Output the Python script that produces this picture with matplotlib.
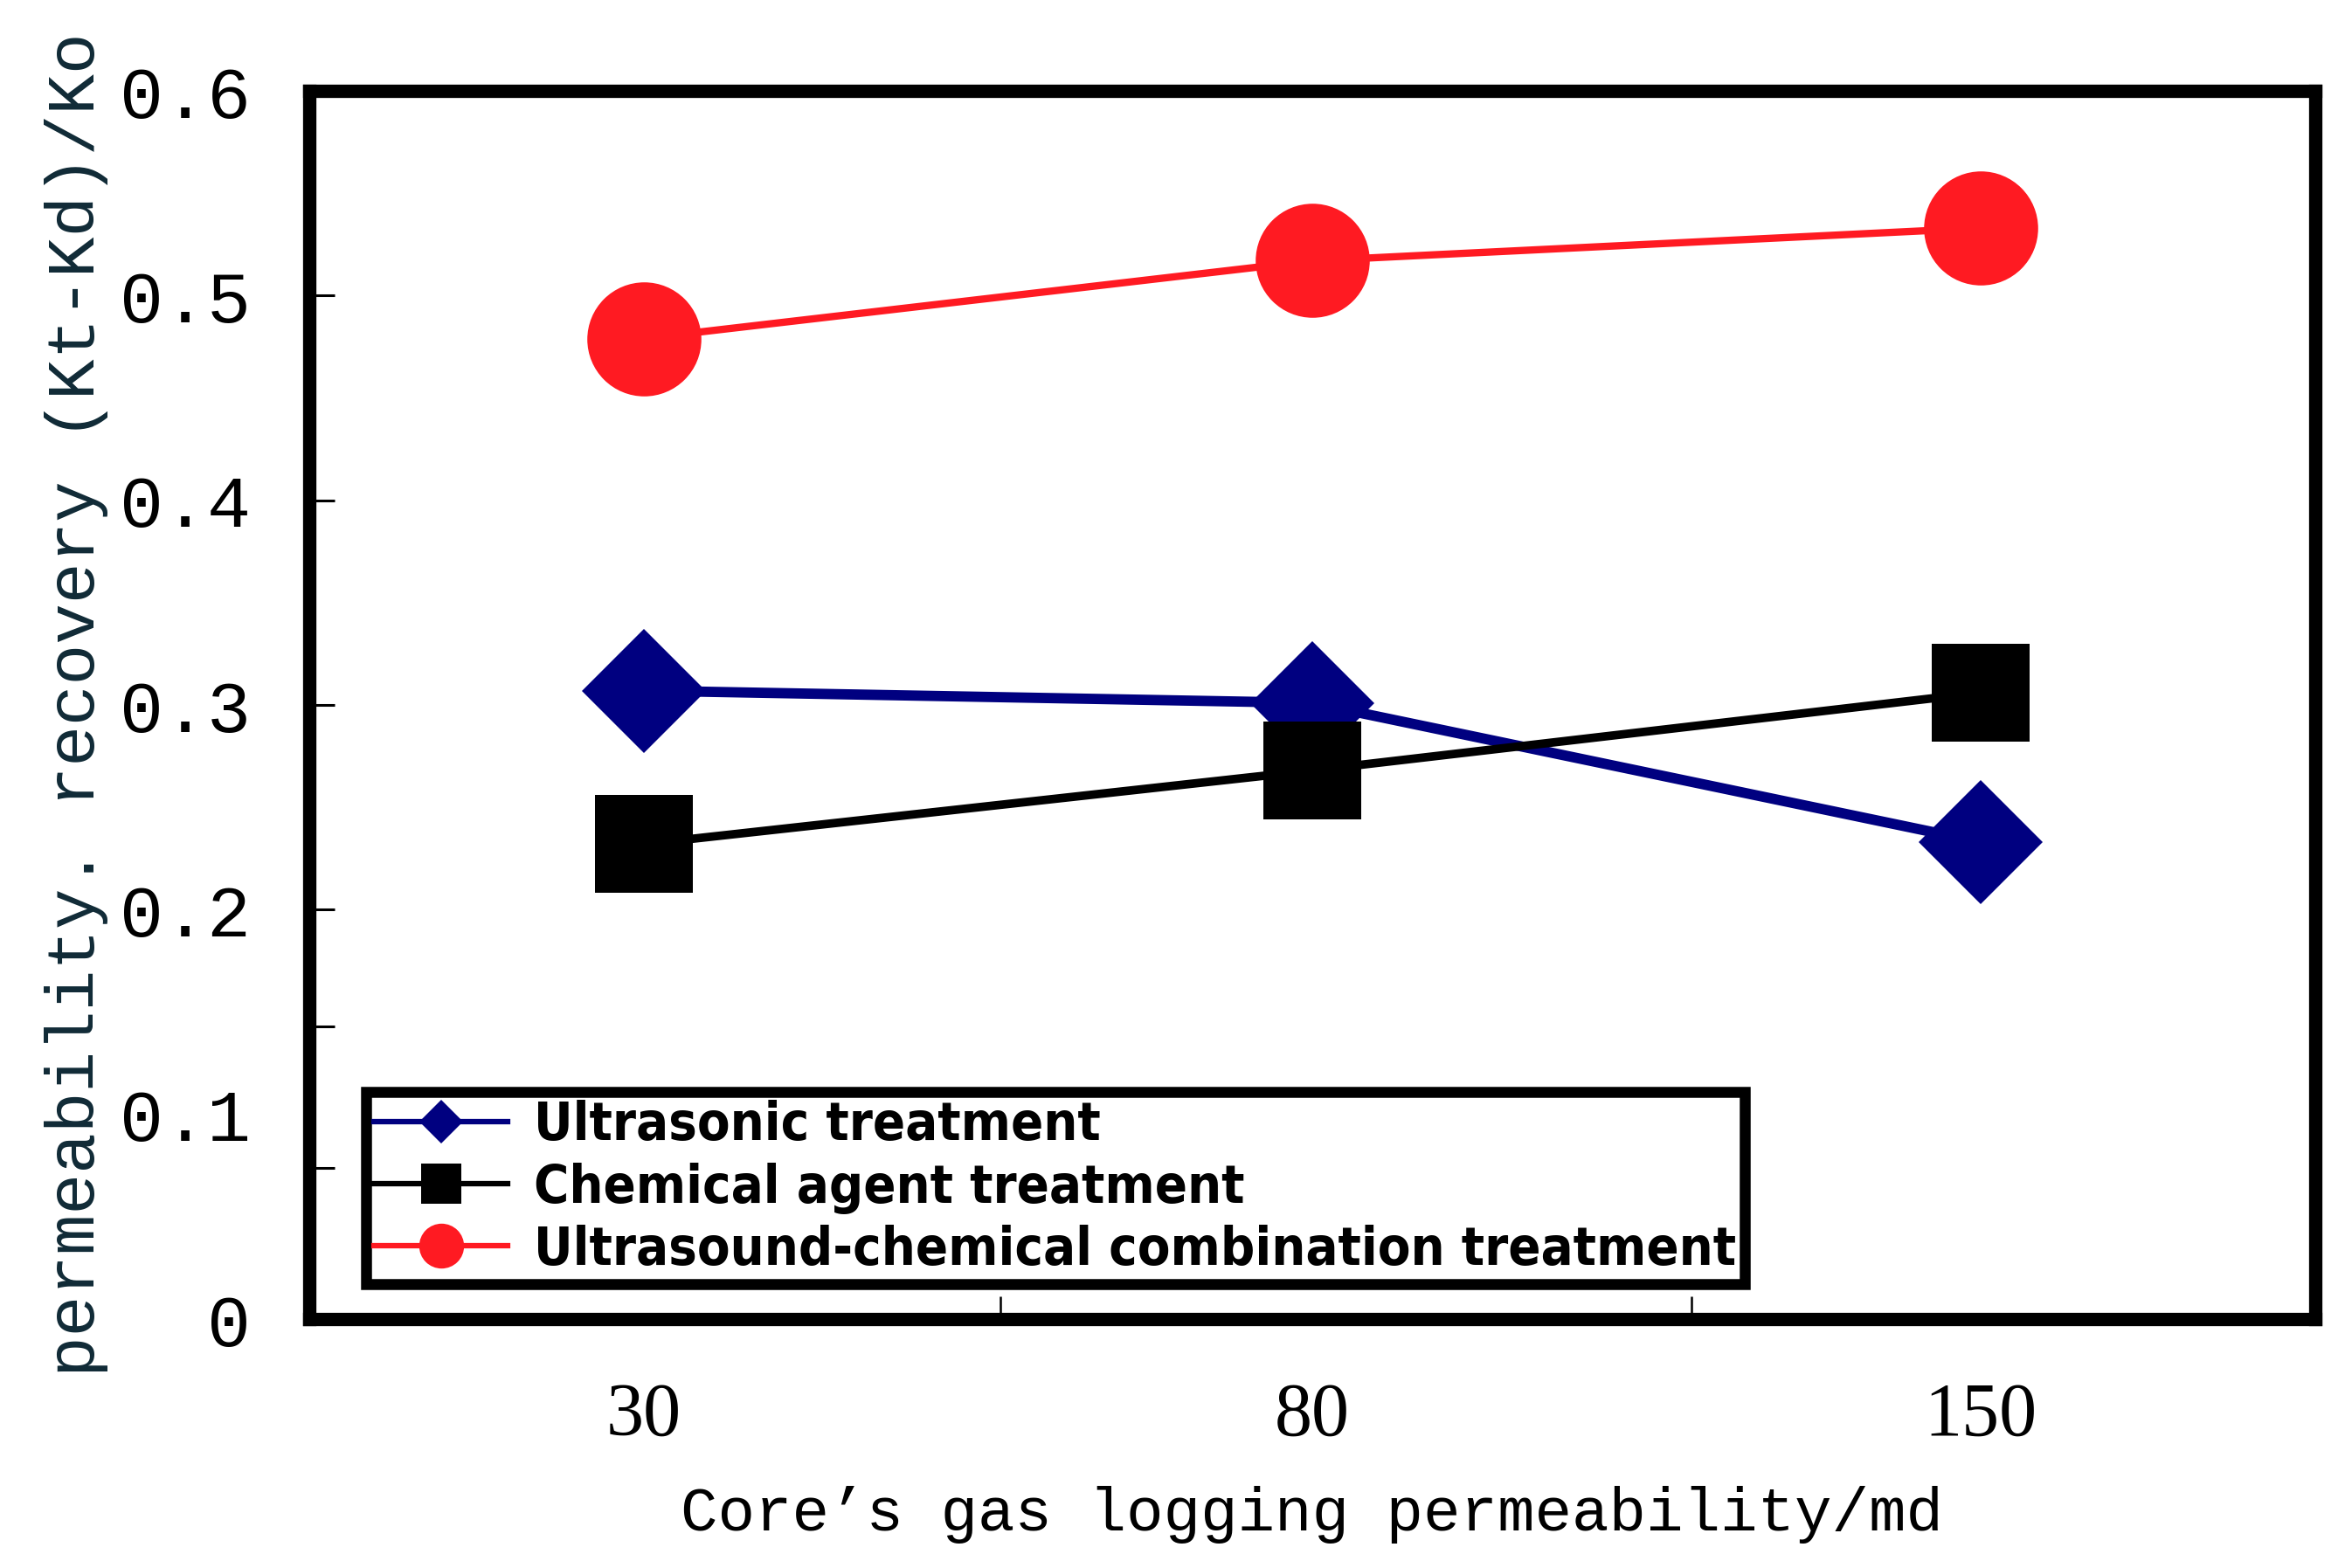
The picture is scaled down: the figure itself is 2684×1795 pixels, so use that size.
import matplotlib
matplotlib.use('Agg')
import matplotlib.pyplot as plt
from matplotlib import font_manager as fm
from matplotlib.ticker import FixedLocator, NullFormatter

# ---- data ----
categories = ['30', '80', '150']
ultrasonic = [0.307, 0.301, 0.233]
chemical = [0.232, 0.268, 0.306]
combined = [0.479, 0.517, 0.533]
series_names = ['Ultrasonic treatment',
                'Chemical agent treatment',
                'Ultrasound-chemical combination treatment']
y_tick_values = [0, 0.1, 0.2, 0.3, 0.4, 0.5, 0.6]
y_tick_labels = ['0', '0.1', '0.2', '0.3', '0.4', '0.5', '0.6']
x_label = "Core\u2019s gas logging permeability/md"
y_label = "permeability. recovery (Kt-Kd)/Ko"

# ---- pick a narrow bold font for the legend if available ----
def _is_bold(w):
    try:
        return int(w) >= 600
    except (TypeError, ValueError):
        return str(w).lower() in ('bold', 'demibold', 'semibold', 'heavy', 'black')

narrow = None
for f in fm.fontManager.ttflist:
    nm = f.name.lower()
    if (('narrow' in nm or 'condensed' in nm or
         str(f.stretch).lower() in ('condensed', 'semi-condensed'))
            and _is_bold(f.weight) and f.style == 'normal'):
        narrow = f
        if 'sans' in nm:
            break
if narrow is not None:
    legend_prop = fm.FontProperties(fname=narrow.fname, size=44)
else:
    legend_prop = fm.FontProperties(family='DejaVu Sans', weight='bold', size=39)

# ---- figure ----
fig = plt.figure(figsize=(26.84, 17.95), dpi=100)
ax = fig.add_axes([0.13189, 0.15877, 0.85544, 0.78329])

x = list(range(len(categories)))
navy = '#000080'
red = '#ff1a22'

ax.plot(x, ultrasonic, color=navy, lw=8.5, marker='D', ms=72,
        mec=navy, mew=0, label=series_names[0], zorder=3)
ax.plot(x, chemical, color='black', lw=7.0, marker='s', ms=80,
        mec='black', mew=0, label=series_names[1], zorder=4)
ax.plot(x, combined, color=red, lw=6.0, marker='o', ms=94,
        mec=red, mew=0, label=series_names[2], zorder=5)

ax.set_xlim(-0.5, 2.5)
ax.set_ylim(0, 0.6)

for sp in ax.spines.values():
    sp.set_linewidth(11)
    sp.set_color('black')

ax.yaxis.remove_overlapping_locs = False
ax.xaxis.remove_overlapping_locs = False

# y ticks
ax.yaxis.set_major_locator(FixedLocator(y_tick_values))
ax.set_yticklabels(y_tick_labels, family=['Liberation Mono', 'DejaVu Sans Mono'],
                   fontsize=60)
ax.tick_params(axis='y', which='major', length=0, pad=48)
ax.yaxis.set_minor_locator(FixedLocator([0.5, 0.4, 0.3, 0.2, 0.143, 0.074]))
ax.yaxis.set_minor_formatter(NullFormatter())
ax.tick_params(axis='y', which='minor', direction='in', length=21, width=2.2,
               left=True, right=False)

# x ticks
ax.xaxis.set_major_locator(FixedLocator(x))
ax.set_xticklabels(categories, family=['Liberation Serif', 'DejaVu Serif'],
                   fontsize=62)
ax.tick_params(axis='x', which='major', length=0, pad=52)
ax.xaxis.set_minor_locator(FixedLocator([0.534, 1.567]))
ax.xaxis.set_minor_formatter(NullFormatter())
ax.tick_params(axis='x', which='minor', direction='in', length=19, width=1.8,
               bottom=True, top=False)

ax.set_xlabel(x_label, family=['Liberation Mono', 'DejaVu Sans Mono'],
              fontsize=51, labelpad=28)
ax.set_ylabel(y_label, family=['Liberation Mono', 'DejaVu Sans Mono'],
              fontsize=56, color='#102a36')
ax.yaxis.label.set_va('center')
ax.yaxis.set_label_coords(-0.1159, 0.5)

leg = ax.legend(loc='lower left', bbox_to_anchor=(0.1561, 0.1811),
                bbox_transform=fig.transFigure, borderaxespad=0,
                prop=legend_prop,
                handlelength=2.5, handletextpad=0.5, borderpad=0.15,
                labelspacing=0.2, fancybox=False, framealpha=1,
                edgecolor='black')
leg.get_frame().set_linewidth(9)
for h, s in zip(leg.legend_handles, [25, 33, 37]):
    h.set_markersize(s)
    h.set_linewidth(4.5)

fig.savefig('out.png', dpi=100)
